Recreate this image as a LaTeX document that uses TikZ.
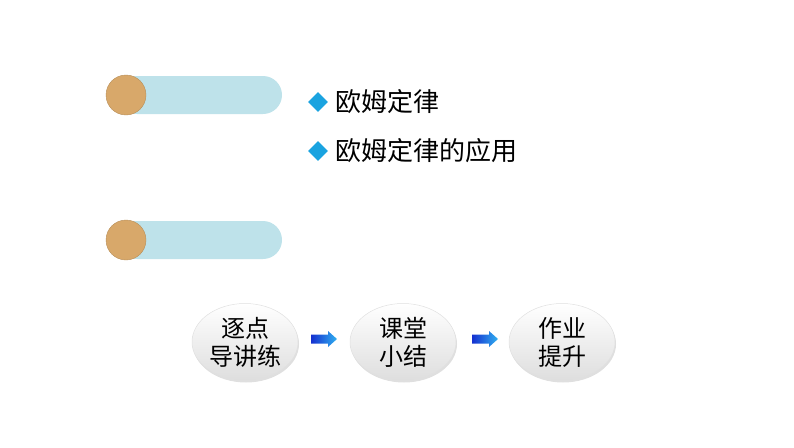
\documentclass[tikz,border=0pt]{standalone}
\usepackage{fontspec}
\newfontfamily\cjk{Noto Sans CJK SC}
\usetikzlibrary{shapes.geometric,shadows,calc}
\definecolor{barblue}{HTML}{BEE2EA}
\definecolor{dotgold}{HTML}{D8A86A}
\definecolor{diablue}{HTML}{1AA3E0}
\definecolor{arrdark}{HTML}{1530D0}
\definecolor{arrlight}{HTML}{30B0F0}
\tikzset{
  bar/.style={fill=barblue, draw=none, rounded corners=19pt},
  dot/.style={circle, fill=dotgold, draw=dotgold!85!black, line width=0.4pt, minimum size=40pt, inner sep=0pt},
  item/.style={anchor=west, font=\cjk\fontsize{26}{30}\selectfont, inner sep=0pt},
  dia/.style={diamond, fill=diablue, minimum size=20pt, inner sep=0pt},
  stage/.style={ellipse, minimum width=106pt, minimum height=77pt, inner sep=0pt,
    top color=white, bottom color=black!13, draw=black!12, line width=0.5pt,
    drop shadow={shadow xshift=1pt, shadow yshift=-2pt, opacity=0.25},
    font=\cjk\fontsize{24}{28}\selectfont, align=center},
  flow/.style={left color=arrdark, right color=arrlight, draw=none}
}
\newcommand\flowarrow[1]{%
  \shade[flow] ($(#1)+(-13,-4.5)$) -- ++(17,0) -- ++(0,-3.5) -- ++(9,8) -- ++(-9,8) -- ++(0,-3.5) -- ++(-17,0) -- cycle;}
\begin{document}
\begin{tikzpicture}[x=1pt,y=-1pt]
\useasboundingbox (0,0) rectangle (794,447);
% bars
\fill[bar] (118,76) rectangle (282,114);
\node[dot] (d1) at (126,95) {};
\fill[bar] (118,221) rectangle (282,259);
\node[dot] (d2) at (126,240) {};
% items
\node[dia] (m1) at (318,102) {};
\node[item] (t1) at (335,102) {\cjk 欧姆定律};
\node[dia] (m2) at (318,151) {};
\node[item] (t2) at (335,151) {\cjk 欧姆定律的应用};
% stages
\node[stage] (s1) at (245,342) {逐点\\导讲练};
\node[stage] (s2) at (403,342) {课堂\\小结};
\node[stage] (s3) at (562,342) {作业\\提升};
\coordinate (a1) at (324,339);
\coordinate (a2) at (485,339);
\flowarrow{a1}
\flowarrow{a2}
\end{tikzpicture}
\end{document}
